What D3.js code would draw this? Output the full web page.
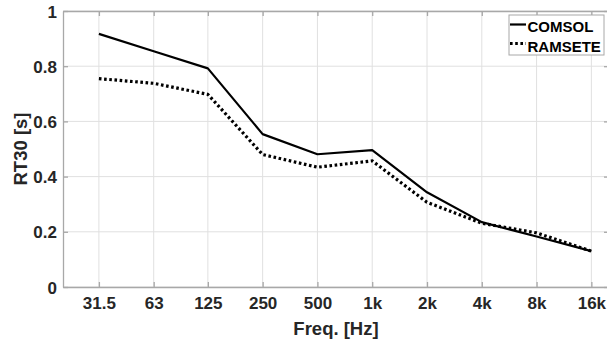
<!DOCTYPE html>
<html><head><meta charset="utf-8">
<script src="https://cdn.jsdelivr.net/npm/d3@7"></script>
<style>
html,body{margin:0;padding:0;background:#fff;overflow:hidden}
text{font-family:"Liberation Sans",Arial,sans-serif;font-weight:bold}
</style></head><body>
<script>
const categories = ["31.5","63","125","250","500","1k","2k","4k","8k","16k"];
const freqs = [31.5,63,125,250,500,1000,2000,4000,8000,16000];
const comsol = [0.917,0.854,0.792,0.554,0.481,0.496,0.343,0.235,0.183,0.130];
const ramsete = [0.755,0.738,0.698,0.480,0.434,0.457,0.307,0.231,0.196,0.130];
const yTicks = [0,0.2,0.4,0.6,0.8,1];

const W=607,H=341;
const L=63,R=609,T=11,B=287;
const svg=d3.select("body").append("svg").attr("width",W).attr("height",H);
const x=d3.scaleLog().base(2).domain([20,20000]).range([L,R]);
const y=d3.scaleLinear().domain([0,1]).range([B,T]);

const grid=svg.append("g").attr("stroke","#e0e0e0").attr("stroke-width",1);
freqs.forEach(f=>grid.append("line").attr("x1",x(f)).attr("x2",x(f)).attr("y1",T).attr("y2",B));
yTicks.forEach(v=>grid.append("line").attr("x1",L).attr("x2",R).attr("y1",y(v)).attr("y2",y(v)));

// axes
const axCol="#a8a8a8";
const xb=svg.append("g").attr("transform",`translate(0,${B})`)
  .call(d3.axisBottom(x).tickValues(freqs).tickFormat((d,i)=>categories[i]).tickSizeInner(-5).tickSizeOuter(0).tickPadding(10));
const xt=svg.append("g").attr("transform",`translate(0,${T})`)
  .call(d3.axisTop(x).tickValues(freqs).tickFormat("").tickSizeInner(-5).tickSizeOuter(0));
const yl=svg.append("g").attr("transform",`translate(${L},0)`)
  .call(d3.axisLeft(y).tickValues(yTicks).tickFormat(d=>d===0||d===1?d3.format("d")(d):d3.format(".1f")(d)).tickSizeInner(-5).tickSizeOuter(0).tickPadding(6));
const yr=svg.append("g").attr("transform",`translate(${R},0)`)
  .call(d3.axisRight(y).tickValues(yTicks).tickFormat("").tickSizeInner(-5).tickSizeOuter(0));
[xb,xt,yl,yr].forEach(g=>{g.selectAll("path,line").attr("stroke",axCol).attr("stroke-width",1.3);
  g.selectAll("text").attr("fill","#262626").style("font-size","17px").style("font-family","'Liberation Sans',Arial,sans-serif").style("font-weight","bold");});
xb.selectAll("text").attr("dy","0.71em");
yl.selectAll("text").attr("dy","0.36em");

// lines
const line=d3.line().x((d,i)=>x(freqs[i])).y(d=>y(d));
svg.append("path").datum(comsol).attr("d",line).attr("fill","none").attr("stroke","#000").attr("stroke-width",2.2).attr("stroke-linejoin","round");
svg.append("path").datum(ramsete).attr("d",line).attr("fill","none").attr("stroke","#000").attr("stroke-width",3.2).attr("stroke-dasharray","2.6,2.6");

// axis labels
svg.append("text").attr("x",(L+R)/2).attr("y",335).attr("text-anchor","middle").attr("fill","#262626").style("font-size","18.5px").text("Freq. [Hz]");
svg.append("text").attr("transform",`translate(27,${(T+B)/2}) rotate(-90)`).attr("text-anchor","middle").attr("fill","#262626").style("font-size","18.5px").text("RT30 [s]");

// legend
const lg=svg.append("g");
lg.append("rect").attr("x",509).attr("y",15).attr("width",95).attr("height",40).attr("fill","#fff").attr("stroke","#a8a8a8").attr("stroke-width",1);
lg.append("line").attr("x1",510).attr("x2",526).attr("y1",24.5).attr("y2",24.5).attr("stroke","#000").attr("stroke-width",2.2);
lg.append("line").attr("x1",510).attr("x2",526).attr("y1",43.5).attr("y2",43.5).attr("stroke","#000").attr("stroke-width",3.2).attr("stroke-dasharray","2.6,2.6");
lg.append("text").attr("x",527.5).attr("y",32.3).attr("fill","#000").style("font-size","15px").text("COMSOL");
lg.append("text").attr("x",527.5).attr("y",51.5).attr("fill","#000").style("font-size","15px").text("RAMSETE");
</script></body></html>
